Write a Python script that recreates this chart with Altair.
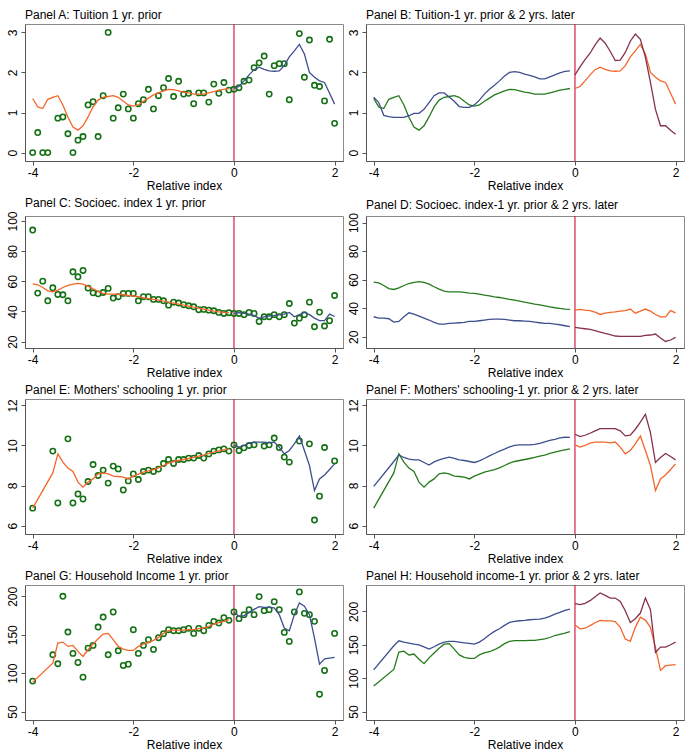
import altair as alt
import pandas as pd

# ---- relative-index bins (0.1 wide) ----
X_LEFT = [-4.0, -3.9, -3.8, -3.7, -3.6, -3.5, -3.4, -3.3, -3.2, -3.1,
          -3.0, -2.9, -2.8, -2.7, -2.6, -2.5, -2.4, -2.3, -2.2, -2.1,
          -2.0, -1.9, -1.8, -1.7, -1.6, -1.5, -1.4, -1.3, -1.2, -1.1,
          -1.0, -0.9, -0.8, -0.7, -0.6, -0.5, -0.4, -0.3, -0.2, -0.1]
X_LEFT_SPARSE = [-4.0, -3.6, -3.5, -3.4, -3.3, -3.2, -3.1,
                 -3.0, -2.9, -2.8, -2.7, -2.6, -2.5, -2.4, -2.3, -2.2, -2.1,
                 -2.0, -1.9, -1.8, -1.7, -1.6, -1.5, -1.4, -1.3, -1.2, -1.1,
                 -1.0, -0.9, -0.8, -0.7, -0.6, -0.5, -0.4, -0.3, -0.2, -0.1]
X_RIGHT = [0.0, 0.1, 0.2, 0.3, 0.4, 0.5, 0.6, 0.7, 0.8, 0.9,
           1.0, 1.1, 1.2, 1.3, 1.4, 1.5, 1.6, 1.7, 1.8, 1.9, 2.0]

# ---- tuition ----
tuition_pts_x = [-4.0, -3.9, -3.8, -3.7, -3.5, -3.4, -3.3, -3.2, -3.1,
                 -3.0, -2.9, -2.8, -2.7, -2.6, -2.5, -2.4, -2.3, -2.2, -2.1,
                 -2.0, -1.9, -1.8, -1.7, -1.6, -1.5, -1.4, -1.3, -1.2, -1.1,
                 -1.0, -0.9, -0.8, -0.7, -0.6, -0.5, -0.4, -0.3, -0.2, -0.1,
                 0.0, 0.1, 0.2, 0.3, 0.4, 0.5, 0.6, 0.7, 0.8, 0.9,
                 1.0, 1.1, 1.3, 1.4, 1.5, 1.6, 1.7, 1.8, 1.9, 2.0]
tuition_pts_y = [0.0, 0.5, 0.0, 0.0, 0.86, 0.89, 0.47, 0.0, 0.31,
                 0.40, 1.19, 1.27, 0.40, 1.42, 3.0, 0.86, 1.12, 1.46, 1.09,
                 0.86, 1.22, 1.32, 1.58, 1.09, 1.42, 1.62, 1.85, 1.40, 1.78,
                 1.46, 1.48, 1.22, 1.49, 1.49, 1.26, 1.71, 1.48, 1.75, 1.56,
                 1.58, 1.62, 1.78, 1.81, 2.12, 2.24, 2.41, 1.46, 2.17, 2.22,
                 2.22, 1.32, 2.97, 1.88, 2.81, 1.68, 1.65, 1.29, 2.83, 0.73]
tuition_prior_left = [1.35, 1.14, 1.10, 1.33, 1.38, 1.42, 1.19, 0.88, 0.64, 0.56,
                      0.67, 0.89, 1.14, 1.31, 1.38, 1.40, 1.42, 1.38, 1.28, 1.19,
                      1.16, 1.19, 1.28, 1.36, 1.44, 1.49, 1.54, 1.58, 1.57, 1.54,
                      1.51, 1.49, 1.46, 1.46, 1.46, 1.49, 1.52, 1.56, 1.58, 1.60]
tuition_prior_right = [1.60, 1.65, 1.79, 1.94, 2.07, 2.13, 2.08, 2.04, 2.03, 2.04,
                       2.17, 2.39, 2.54, 2.70, 2.46, 2.00, 1.88, 1.79, 1.75, 1.48, 1.21]
tuition_later_left = [1.38, 1.25, 0.93, 0.90, 0.88, 0.88, 0.88, 0.92, 0.98, 0.98,
                      1.08, 1.25, 1.42, 1.49, 1.49, 1.39, 1.28, 1.15, 1.13, 1.13,
                      1.19, 1.31, 1.46, 1.58, 1.68, 1.79, 1.91, 2.00, 2.02, 2.00,
                      1.96, 1.93, 1.89, 1.84, 1.84, 1.89, 1.94, 1.99, 2.03, 2.04]
tuition_later_right = [1.94, 2.14, 2.32, 2.48, 2.69, 2.86, 2.73, 2.53, 2.30, 2.31,
                       2.50, 2.78, 2.96, 2.83, 2.38, 1.75, 1.08, 0.67, 0.67, 0.56, 0.46]

# ---- socioeconomic index ----
ses_pts_y = [94.0, 52.2, 60.1, 47.1, 55.7, 51.3, 51.1, 47.1, 66.3, 63.0,
             67.2, 55.5, 52.4, 51.7, 52.6, 55.3, 48.9, 49.8, 52.0, 52.0,
             52.0, 47.1, 49.8, 49.8, 48.0, 48.0, 47.1, 44.2, 46.2, 45.6,
             44.5, 43.8, 43.1, 41.2, 41.4, 40.9, 40.5, 39.4, 38.7, 39.2,
             38.7, 38.7, 37.9, 39.4, 38.7, 33.4, 36.5, 36.5, 37.9, 36.5,
             37.9, 45.3, 32.3, 35.6, 37.9, 46.2, 29.9, 39.6, 30.4, 33.9, 50.6]
ses_prior_left = [58.3, 57.7, 55.9, 53.7, 53.1, 54.2, 55.9, 57.3, 58.1, 58.6,
                  58.1, 56.8, 55.0, 53.3, 52.0, 51.5, 51.5, 51.5, 51.1, 50.6,
                  50.4, 49.8, 49.1, 48.6, 48.0, 47.5, 46.9, 46.2, 45.6, 44.9,
                  44.2, 43.6, 42.9, 42.3, 41.6, 40.9, 40.3, 39.8, 39.4, 39.2]
ses_prior_right = [38.7, 39.2, 38.7, 38.3, 37.2, 35.6, 36.5, 37.0, 37.4, 37.9,
                   38.3, 39.4, 36.5, 37.9, 39.4, 37.9, 35.6, 33.9, 33.9, 38.3, 36.7]
ses_later_left = [34.0, 33.1, 33.1, 32.6, 30.3, 30.7, 34.0, 36.8, 35.9, 34.5,
                  33.1, 31.7, 30.0, 28.9, 28.9, 29.3, 29.6, 29.8, 30.0, 30.7,
                  30.7, 31.2, 31.7, 32.1, 32.4, 32.4, 32.1, 31.7, 31.2, 31.2,
                  31.0, 30.7, 30.3, 29.8, 29.3, 29.3, 28.9, 28.4, 27.7, 27.0]
ses_later_right = [26.5, 26.1, 25.6, 25.1, 24.2, 23.3, 22.3, 21.4, 20.5, 20.2,
                   20.2, 20.2, 20.2, 20.2, 20.9, 21.2, 21.9, 19.1, 16.7, 17.7, 19.5]

# ---- mothers' schooling ----
school_pts_x = [-4.0, -3.6, -3.5, -3.3, -3.2, -3.1,
                -3.0, -2.9, -2.8, -2.7, -2.6, -2.5, -2.4, -2.3, -2.2, -2.1,
                -2.0, -1.9, -1.8, -1.7, -1.6, -1.5, -1.4, -1.3, -1.2, -1.1,
                -1.0, -0.9, -0.8, -0.7, -0.6, -0.5, -0.4, -0.3, -0.2, -0.1,
                0.0, 0.1, 0.2, 0.3, 0.4, 0.6, 0.7, 0.8, 0.9, 1.0, 1.1,
                1.3, 1.5, 1.6, 1.7, 1.8, 2.0]
school_pts_y = [6.87, 9.72, 7.13, 10.33, 7.13, 7.58,
                7.33, 8.20, 9.05, 8.50, 8.77, 8.12, 8.97, 8.83, 7.78, 8.23,
                8.58, 8.30, 8.70, 8.77, 8.70, 8.82, 9.10, 9.30, 9.10, 9.30,
                9.30, 9.37, 9.37, 9.50, 9.37, 9.58, 9.72, 9.78, 9.83, 9.72,
                10.03, 9.75, 9.88, 10.00, 10.03, 9.97, 10.03, 10.37, 9.90, 9.42, 9.17,
                10.22, 10.08, 6.28, 7.47, 9.90, 9.23]
school_prior_left = [6.87, 8.63, 9.58, 9.17, 8.87, 8.70, 8.17,
                     7.92, 8.17, 8.33, 8.58, 8.63, 8.58, 8.47, 8.45, 8.42, 8.33,
                     8.47, 8.57, 8.67, 8.73, 8.80, 8.88, 9.00, 9.12, 9.20, 9.25,
                     9.30, 9.35, 9.40, 9.47, 9.52, 9.60, 9.67, 9.73, 9.78, 9.83]
school_prior_right = [10.03, 9.92, 10.00, 10.12, 10.17, 10.17, 10.17, 10.13, 10.17, 9.92,
                      9.58, 9.75, 10.08, 10.47, 9.75, 9.00, 7.75, 8.33, 8.53, 8.80, 9.08]
school_later_left = [7.96, 9.20, 9.53, 9.40, 9.32, 9.28, 9.28,
                     9.15, 9.02, 9.18, 9.28, 9.35, 9.42, 9.35, 9.28, 9.25, 9.20,
                     9.15, 9.23, 9.35, 9.48, 9.60, 9.72, 9.82, 9.93, 10.01, 10.03,
                     10.03, 10.03, 10.05, 10.11, 10.18, 10.25, 10.31, 10.38, 10.41, 10.40]
school_later_right = [10.56, 10.44, 10.51, 10.61, 10.73, 10.84, 10.84, 10.84, 10.84, 10.73,
                      10.48, 10.51, 10.81, 11.17, 11.56, 10.64, 9.15, 9.40, 9.60, 9.45, 9.28]

# ---- household income ----
income_pts_x = [-4.0, -3.6, -3.5, -3.4, -3.3, -3.2, -3.1,
                -3.0, -2.9, -2.8, -2.7, -2.6, -2.5, -2.4, -2.3, -2.2, -2.1,
                -2.0, -1.9, -1.8, -1.7, -1.6, -1.5, -1.4, -1.3, -1.2, -1.1,
                -1.0, -0.9, -0.8, -0.7, -0.6, -0.5, -0.4, -0.3, -0.2, -0.1,
                0.0, 0.1, 0.2, 0.3, 0.4, 0.5, 0.6, 0.7, 0.8, 0.9,
                1.0, 1.1, 1.2, 1.3, 1.4, 1.5, 1.6, 1.7, 1.8, 2.0]
income_pts_y = [89.6, 123.9, 112.2, 200.0, 153.5, 125.7, 113.9,
                94.8, 132.6, 136.1, 160.0, 173.0, 123.9, 179.6, 129.1, 110.0, 111.7,
                156.5, 125.7, 136.1, 143.5, 130.9, 146.1, 151.3, 156.5, 155.2, 155.2,
                156.5, 158.3, 151.7, 158.3, 155.2, 162.2, 167.4, 165.2, 172.2, 168.7,
                179.6, 170.9, 176.1, 182.6, 176.1, 199.6, 181.3, 182.6, 193.0, 182.6,
                153.0, 141.3, 179.6, 205.7, 177.8, 176.1, 167.4, 72.6, 103.5, 151.7]
income_prior_left = [88.3, 113.0, 139.0, 140.4, 134.8, 136.1, 128.3,
                     121.7, 130.4, 137.8, 144.8, 150.9, 151.7, 143.5, 134.8, 131.3, 129.6,
                     129.6, 134.8, 137.8, 139.6, 142.6, 146.5, 151.7, 155.2, 156.1, 156.1,
                     156.1, 156.5, 156.5, 157.8, 158.7, 160.9, 163.9, 165.7, 167.4, 169.6]
income_prior_right = [179.6, 173.9, 174.8, 178.7, 183.0, 186.5, 185.7, 185.7, 184.8, 176.1,
                      158.7, 155.2, 176.1, 191.3, 187.0, 176.1, 145.7, 111.7, 118.7, 119.6, 120.4]
income_later_left = [112.5, 148.5, 156.0, 154.0, 152.5, 151.0, 150.0,
                     147.0, 143.5, 147.0, 151.0, 154.0, 155.0, 155.0, 154.0, 153.0, 152.0,
                     151.0, 154.0, 159.0, 165.0, 170.0, 174.0, 179.0, 183.5, 185.0, 186.0,
                     186.5, 187.5, 188.0, 188.5, 190.0, 192.5, 196.0, 198.5, 201.5, 203.5]
income_later_right = [211.5, 210.0, 212.0, 216.0, 222.0, 227.5, 224.0, 220.0, 220.0, 215.0,
                      201.0, 183.5, 189.0, 197.5, 220.0, 202.5, 138.5, 146.5, 146.5, 150.0, 154.0]

# ---- styling ----
GREEN = "#147014"
LINE_GREEN = "#267a1c"
ORANGE = "#f4662a"
NAVY = "#3e4f8e"
MAROON = "#86324f"
RED = "#d21f45"
FONT = "Liberation Sans"
X_DOMAIN = [-4.153, 2.167]
X_TICKS = [-4, -2, 0, 2]
PANEL_W = 318


def table(xs, ys):
    return pd.DataFrame({"x": xs, "y": ys})


def panel(title, ydom, yticks, height, lines, points=None):
    x = alt.X("x:Q", scale=alt.Scale(domain=X_DOMAIN, nice=False, zero=False),
              axis=alt.Axis(values=X_TICKS, title="Relative index",
                            labelExpr="'' + datum.value"))
    y = alt.Y("y:Q", scale=alt.Scale(domain=ydom, nice=False, zero=False),
              axis=alt.Axis(values=yticks, title=None, labelAngle=270,
                            labelAlign="center", labelBaseline="bottom",
                            labelExpr="'' + datum.value"))
    layers = [
        alt.Chart(pd.DataFrame({"x": [0.0]}))
        .mark_rule(color=RED, strokeWidth=1.2)
        .encode(x=x)
    ]
    if points is not None:
        layers.append(
            alt.Chart(table(*points))
            .mark_point(shape="circle", filled=False, color=GREEN, size=28,
                        strokeWidth=1.6, opacity=1)
            .encode(x=x, y=y)
        )
    for xs, ys, col in lines:
        layers.append(
            alt.Chart(table(xs, ys))
            .mark_line(color=col, strokeWidth=1.3)
            .encode(x=x, y=y)
        )
    return alt.layer(*layers).properties(
        width=PANEL_W, height=height,
        title=alt.TitleParams(title, anchor="start", frame="group", offset=1,
                              font=FONT, fontSize=12, fontWeight="normal", color="black"),
    )


TU_DOM, TU_TICKS = [-0.21, 3.21], [0, 1, 2, 3]
SES_TICKS = [20, 40, 60, 80, 100]
SC_DOM, SC_TICKS = [5.58, 12.32], [6, 8, 10, 12]
IN_TICKS = [50, 100, 150, 200]

pA = panel("Panel A: Tuition 1 yr. prior", TU_DOM, TU_TICKS, 137,
           [(X_LEFT, tuition_prior_left, ORANGE), (X_RIGHT, tuition_prior_right, NAVY)],
           (tuition_pts_x, tuition_pts_y))
pB = panel("Panel B: Tuition-1 yr. prior & 2 yrs. later", TU_DOM, TU_TICKS, 137,
           [(X_LEFT, tuition_prior_left, LINE_GREEN), (X_LEFT, tuition_later_left, NAVY),
            (X_RIGHT, tuition_prior_right, ORANGE), (X_RIGHT, tuition_later_right, MAROON)])
pC = panel("Panel C: Socioec. index 1 yr. prior", [15.8, 103.3], SES_TICKS, 132,
           [(X_LEFT, ses_prior_left, ORANGE), (X_RIGHT, ses_prior_right, NAVY)],
           (X_LEFT + X_RIGHT, ses_pts_y))
pD = panel("Panel D: Socioec. index-1 yr. prior & 2 yrs. later", [12.1, 104.6], SES_TICKS, 132,
           [(X_LEFT, ses_prior_left, LINE_GREEN), (X_LEFT, ses_later_left, NAVY),
            (X_RIGHT, ses_prior_right, ORANGE), (X_RIGHT, ses_later_right, MAROON)])
pE = panel("Panel E: Mothers' schooling 1 yr. prior", SC_DOM, SC_TICKS, 135,
           [(X_LEFT_SPARSE, school_prior_left, ORANGE), (X_RIGHT, school_prior_right, NAVY)],
           (school_pts_x, school_pts_y))
pF = panel("Panel F: Mothers' schooling-1 yr. prior & 2 yrs. later", SC_DOM, SC_TICKS, 135,
           [(X_LEFT_SPARSE, school_prior_left, LINE_GREEN), (X_LEFT_SPARSE, school_later_left, NAVY),
            (X_RIGHT, school_prior_right, ORANGE), (X_RIGHT, school_later_right, MAROON)])
pG = panel("Panel G: Household Income 1 yr. prior", [39.0, 214.7], IN_TICKS, 135,
           [(X_LEFT_SPARSE, income_prior_left, ORANGE), (X_RIGHT, income_prior_right, NAVY)],
           (income_pts_x, income_pts_y))
pH = panel("Panel H: Household income-1 yr. prior & 2 yrs. later", [37.4, 239.5], IN_TICKS, 135,
           [(X_LEFT_SPARSE, income_prior_left, LINE_GREEN), (X_LEFT_SPARSE, income_later_left, NAVY),
            (X_RIGHT, income_prior_right, ORANGE), (X_RIGHT, income_later_right, MAROON)])

rows = [alt.hconcat(a, b, spacing=2) for a, b in [(pA, pB), (pC, pD), (pE, pF), (pG, pH)]]

chart = (
    alt.vconcat(*rows, spacing=4)
    .properties(padding={"left": 5, "top": 8, "right": 5, "bottom": 2}, background="white")
    .configure_view(stroke="#8a8a8a", strokeWidth=1)
    .configure_axis(
        grid=False, domainColor="#555555", tickColor="#555555", tickSize=4,
        labelFont=FONT, labelFontSize=12, labelColor="black", labelPadding=2,
        titleFont=FONT, titleFontSize=12, titleFontWeight="normal", titleColor="black",
        titlePadding=2,
    )
)

chart.save("out.html", embed_options={"renderer": "svg", "actions": False})
